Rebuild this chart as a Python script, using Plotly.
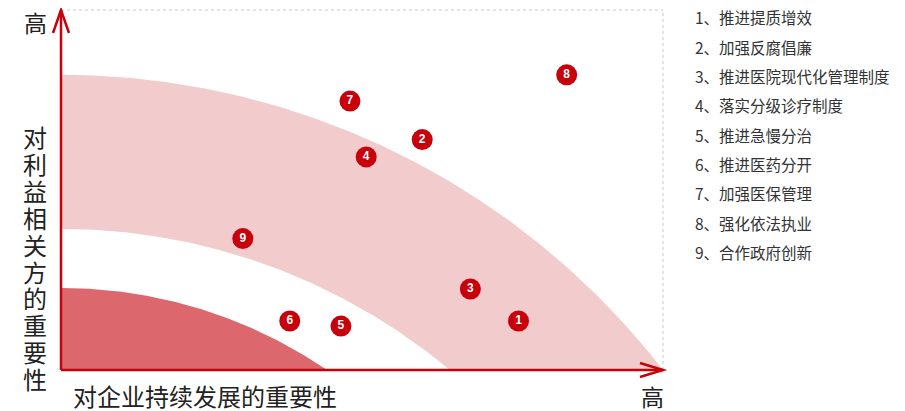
import numpy as np
import plotly.graph_objects as go

# ---------------- data ----------------
issue_ids = ["1", "2", "3", "4", "5", "6", "7", "8", "9"]
issue_names = ["推进提质增效", "加强反腐倡廉", "推进医院现代化管理制度", "落实分级诊疗制度",
               "推进急慢分治", "推进医药分开", "加强医保管理", "强化依法执业", "合作政府创新"]
# importance to enterprise (x) and to stakeholders (y), 0-100 scale
enterprise_importance = [76, 60, 68, 50.7, 46.5, 38, 48, 84, 30.2]
stakeholder_importance = [13.6, 64, 22.5, 59.2, 12.2, 13.6, 74.7, 82, 36.5]

# materiality zones: height on y axis at x=0, extent on x axis at y=0
zone_names = ["outer", "inner", "core"]
zone_left_height = [82, 39.2, 22.8]
zone_right_extent = [100, 64.6, 44.2]

x_title = "对企业持续发展的重要性"
y_title = "对利益相关方的重要性"
high_label = "高"

# ---------------- layout geometry ----------------
OFF = 8                      # page body margin of the browser
W, H = 905 - OFF, 411 - OFF  # figure size that fits the window


def fx(px):   # page pixel x -> paper fraction
    return (px - OFF) / W


def fy(py):   # page pixel y -> paper fraction
    return 1 - (py - OFF) / H


PX_L, PX_R = 61, 663
PY_B, PY_T = 370, 10
SX = (PX_R - PX_L) / 100.0
SY = (PY_B - PY_T) / 100.0

RED = "#c8000b"
FONT = "Noto Sans CJK SC"


def arc(h, w, n=200):
    hp, wp = h * SY, w * SX
    d = (wp ** 2 - hp ** 2) / (2 * hp)
    R = hp + d
    xs = np.linspace(0, wp, n)
    ys = np.sqrt(np.maximum(R ** 2 - xs ** 2, 0)) - d
    ys[-1] = 0
    return xs / SX, ys / SY


fig = go.Figure()

# outer band (between outer and inner arcs)
ox, oy = arc(zone_left_height[0], zone_right_extent[0])
ix, iy = arc(zone_left_height[1], zone_right_extent[1])
band_x = np.concatenate([ox, ix[::-1]])
band_y = np.concatenate([oy, iy[::-1]])
fig.add_trace(go.Scatter(x=band_x, y=band_y, mode="lines", fill="toself",
                         fillcolor="#f2cbcd", line=dict(width=0), hoverinfo="skip",
                         showlegend=False))

# core zone
cx, cy = arc(zone_left_height[2], zone_right_extent[2])
core_x = np.concatenate([[0], cx, [0]])
core_y = np.concatenate([[0], cy, [0]])
fig.add_trace(go.Scatter(x=core_x, y=core_y, mode="lines", fill="toself",
                         fillcolor="#dc676c", line=dict(width=0), hoverinfo="skip",
                         showlegend=False))

# issues
fig.add_trace(go.Scatter(
    x=enterprise_importance, y=stakeholder_importance, mode="markers+text",
    text=issue_ids, textposition="middle center",
    textfont=dict(color="white", size=12, family="Arial", weight="bold"),
    marker=dict(size=21, color=RED, line=dict(width=0)),
    showlegend=False, hoverinfo="text",
    hovertext=[f"{i}、{n}" for i, n in zip(issue_ids, issue_names)]))

shapes = []
# dotted border
shapes.append(dict(type="line", xref="paper", yref="paper", x0=fx(PX_L), y0=fy(PY_T),
                   x1=fx(PX_R), y1=fy(PY_T),
                   line=dict(color="#c8c8c8", width=1, dash="dot"), layer="below"))
shapes.append(dict(type="line", xref="paper", yref="paper", x0=fx(PX_R), y0=fy(PY_B),
                   x1=fx(PX_R), y1=fy(PY_T),
                   line=dict(color="#c8c8c8", width=1, dash="dot"), layer="below"))
# axes
shapes.append(dict(type="line", xref="paper", yref="paper", x0=fx(PX_L), y0=fy(PY_B),
                   x1=fx(PX_R), y1=fy(PY_B), line=dict(color=RED, width=2.5), layer="above"))
shapes.append(dict(type="line", xref="paper", yref="paper", x0=fx(PX_L), y0=fy(PY_B),
                   x1=fx(PX_L), y1=fy(PY_T), line=dict(color=RED, width=2.5), layer="above"))
# arrow heads
shapes.append(dict(type="path", xref="paper", yref="paper",
                   path=(f"M {fx(PX_L - 8)},{fy(PY_T + 23)} L {fx(PX_L)},{fy(PY_T)} "
                         f"L {fx(PX_L + 8)},{fy(PY_T + 23)}"),
                   line=dict(color=RED, width=2.5), layer="above"))
shapes.append(dict(type="path", xref="paper", yref="paper",
                   path=(f"M {fx(PX_R - 23)},{fy(PY_B - 7)} L {fx(PX_R)},{fy(PY_B)} "
                         f"L {fx(PX_R - 23)},{fy(PY_B + 7)}"),
                   line=dict(color=RED, width=2.5), layer="above"))

annotations = []
# legend list
for k, (i, n) in enumerate(zip(issue_ids, issue_names)):
    annotations.append(dict(xref="paper", yref="paper", x=fx(693), y=fy(17.5 + 29.3 * k),
                            xanchor="left", yanchor="middle", showarrow=False,
                            text=f"{i}、{n}", font=dict(family=FONT, size=15.5, color="#333333")))
# axis titles
annotations.append(dict(xref="paper", yref="paper", x=fx(204.5), y=fy(395.5),
                        xanchor="center", yanchor="middle", showarrow=False, text=x_title,
                        font=dict(family=FONT, size=24, color="#222222")))
for k, ch in enumerate(y_title):
    annotations.append(dict(xref="paper", yref="paper", x=fx(35), y=fy(136.5 + 26.9 * k),
                            xanchor="center", yanchor="middle", showarrow=False, text=ch,
                            height=27, valign="middle",
                            font=dict(family=FONT, size=24, color="#222222")))
annotations.append(dict(xref="paper", yref="paper", x=fx(35.5), y=fy(21.5),
                        xanchor="center", yanchor="middle", showarrow=False, text=high_label,
                        font=dict(family=FONT, size=23, color="#222222")))
annotations.append(dict(xref="paper", yref="paper", x=fx(652), y=fy(395.5),
                        xanchor="center", yanchor="middle", showarrow=False, text=high_label,
                        font=dict(family=FONT, size=23, color="#222222")))

fig.update_layout(
    width=W, height=H, margin=dict(l=0, r=0, t=0, b=0),
    paper_bgcolor="white", plot_bgcolor="white",
    xaxis=dict(domain=[fx(PX_L), fx(PX_R)], range=[0, 100], visible=False, fixedrange=True),
    yaxis=dict(domain=[fy(PY_B), fy(PY_T)], range=[0, 100], visible=False, fixedrange=True),
    shapes=shapes, annotations=annotations, showlegend=False,
)

fig.write_html("out.html")
